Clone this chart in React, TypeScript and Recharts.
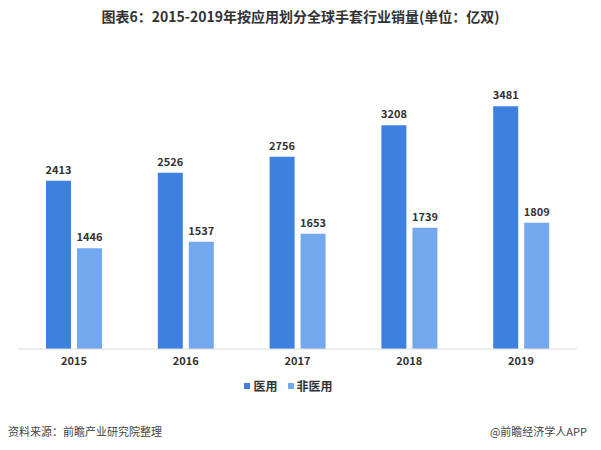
import { BarChart, Bar, XAxis, YAxis, LabelList } from 'recharts'

const years = ['2015', '2016', '2017', '2018', '2019']
const medical = [2413, 2526, 2756, 3208, 3481]
const nonMedical = [1446, 1537, 1653, 1739, 1809]

const data = years.map((year, i) => ({
  year,
  medical: medical[i],
  nonMedical: nonMedical[i],
}))

const FONT = '"Noto Sans CJK SC", "Noto Sans", sans-serif'
const DARK = '#3d80e0'
const LIGHT = '#74a8ee'

export default function App() {
  return (
    <div
      style={{
        position: 'relative',
        width: 601,
        height: 450,
        margin: -8,
        background: '#fff',
        fontFamily: FONT,
        overflow: 'hidden',
      }}
    >
      <div
        style={{
          position: 'absolute',
          top: 6,
          left: 0,
          width: 601,
          textAlign: 'center',
          fontSize: 14,
          fontWeight: 'bold',
          color: '#333',
        }}
      >
        图表6：2015-2019年按应用划分全球手套行业销量(单位：亿双)
      </div>

      <BarChart
        width={601}
        height={450}
        data={data}
        margin={{ top: 70, right: 24, bottom: 81, left: 18 }}
        barCategoryGap="25%"
        barGap={6}
        style={{ position: 'absolute', top: 0, left: 0 }}
      >
        <XAxis
          dataKey="year"
          height={20}
          tickLine={false}
          axisLine={{ stroke: '#dcdcdc' }}
          tick={{ fontSize: 11, fontWeight: 'bold', fill: '#333', fontFamily: FONT }}
        />
        <YAxis hide domain={[0, 4000]} />
        <Bar dataKey="medical" fill={DARK} barSize={25} isAnimationActive={false}>
          <LabelList
            dataKey="medical"
            position="top"
            offset={7}
            style={{ fontSize: 11, fontWeight: 'bold', fill: '#333', fontFamily: FONT }}
          />
        </Bar>
        <Bar dataKey="nonMedical" fill={LIGHT} barSize={25} isAnimationActive={false}>
          <LabelList
            dataKey="nonMedical"
            position="top"
            offset={7}
            style={{ fontSize: 11, fontWeight: 'bold', fill: '#333', fontFamily: FONT }}
          />
        </Bar>
      </BarChart>

      <div
        style={{
          position: 'absolute',
          top: 377,
          left: 0,
          width: 601,
          display: 'flex',
          justifyContent: 'center',
          alignItems: 'center',
          fontSize: 12,
          fontWeight: 'bold',
          color: '#333',
          marginLeft: -12,
        }}
      >
        <span style={{ width: 6, height: 6, background: DARK, marginRight: 3 }} />
        <span style={{ marginRight: 10 }}>医用</span>
        <span style={{ width: 6, height: 6, background: LIGHT, marginRight: 3 }} />
        <span>非医用</span>
      </div>

      <div
        style={{
          position: 'absolute',
          top: 423,
          left: 8,
          fontSize: 11,
          color: '#444',
          whiteSpace: 'nowrap',
        }}
      >
        资料来源：前瞻产业研究院整理
      </div>
      <div
        style={{
          position: 'absolute',
          top: 423,
          right: 14,
          fontSize: 11,
          color: '#444',
          whiteSpace: 'nowrap',
        }}
      >
        @前瞻经济学人APP
      </div>
    </div>
  )
}
